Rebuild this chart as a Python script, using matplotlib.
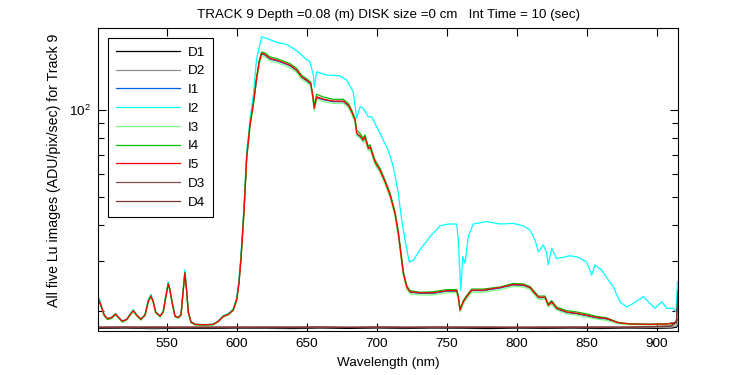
import matplotlib
matplotlib.use('Agg')
import matplotlib.pyplot as plt
from matplotlib.ticker import LogLocator, NullFormatter

plt.rcParams['font.family'] = ['Liberation Sans', 'DejaVu Sans']
plt.rcParams['font.size'] = 9.7

# wavelength samples (nm) for the rising / lamp-line part, shared by I1..I5
wl_left = [501.6, 503.5, 505.4, 507.8, 510.7, 513.5, 515.9, 518.2, 521.4, 523.7,
           526.1, 528.5, 531.6, 534.5, 536.8, 538.7, 540.4, 542.1, 545.2, 547.5,
           549.2, 551.1, 552.3, 554.0, 555.9, 558.2, 560.2, 561.8, 563.0, 564.2,
           565.4, 567.3, 570.2, 577.3, 583.2, 586.8, 590.4, 594.0, 597.5, 600.0,
           601.6, 603.0, 605.2, 607.1, 609.5, 611.8]

# tail wavelengths for I1, I3, I4, I5
wl_right = [614.2, 616.1, 617.8, 620.2, 623.7, 628.5, 633.2, 638.0, 642.8, 646.4,
            649.9, 652.8, 654.2, 655.4, 657.1, 661.8, 669.0, 676.1, 679.7, 682.1,
            684.5, 685.7, 688.0, 690.4, 691.6, 693.9, 695.2, 698.7, 702.3, 705.9,
            709.5, 713.0, 715.4, 717.8, 719.0, 721.4, 723.7, 730.9, 740.4, 750.0,
            757.1, 758.2, 759.5, 761.8, 764.2, 767.8, 776.1, 788.0, 797.5, 804.7,
            809.5, 813.0, 815.4, 820.2, 822.5, 824.9, 828.5, 835.7, 842.8, 849.9,
            857.1, 864.2, 872.5, 880.9, 895.2, 907.1, 913.1, 914.7]

# tail wavelengths for I2
wl_i2_right = [614.2, 617.8, 621.4, 628.5, 635.7, 640.4, 645.2, 648.7, 652.3, 654.7,
               655.4, 657.1, 664.2, 673.7, 678.5, 683.2, 685.7, 688.0, 690.4, 693.9,
               696.4, 702.3, 708.2, 711.8, 715.4, 717.8, 720.2, 723.2, 726.1, 730.9,
               738.0, 745.2, 751.1, 757.1, 758.2, 760.0, 761.4, 763.0, 765.4, 768.9,
               778.5, 788.0, 797.5, 804.7, 809.5, 813.0, 815.4, 819.0, 821.4, 822.5,
               824.9, 828.5, 833.2, 838.0, 844.0, 849.9, 853.5, 855.9, 860.7, 865.4,
               869.0, 873.7, 878.5, 883.2, 890.4, 895.2, 898.7, 903.5, 907.1, 911.9,
               913.8, 914.7]

i1_left = [22.1, 20.6, 19.3, 18.8, 19.0, 19.6, 18.95, 18.45, 18.7, 19.45,
           20.2, 19.35, 18.75, 19.5, 21.8, 22.7, 21.5, 19.85, 19.2, 19.95,
           22.4, 25.1, 23.6, 21.2, 19.2, 19.0, 19.45, 23.9, 27.4, 23.5,
           19.8, 18.35, 18.0, 17.95, 18.0, 18.5, 19.3, 19.6, 20.3, 22.1,
           25.4, 30.6, 45.2, 68.9, 89.5, 105.0]
i1_right = [128.0, 146.2, 156.5, 155.2, 150.3, 148.3, 145.6, 142.5, 137.0, 129.8,
            126.4, 123.1, 112.0, 100.8, 110.5, 108.6, 106.9, 106.9, 103.5, 98.1,
            91.8, 82.5, 80.9, 78.2, 80.3, 73.2, 74.2, 65.7, 61.5, 56.1,
            50.4, 43.6, 37.1, 30.0, 27.0, 24.2, 23.3, 23.1, 23.1, 23.5,
            23.5, 22.4, 20.1, 21.5, 22.4, 23.6, 23.6, 24.1, 24.7, 24.6,
            24.1, 23.0, 22.3, 22.3, 20.9, 21.5, 20.4, 19.8, 19.6, 19.3,
            18.95, 18.8, 18.2, 18.05, 18.0, 18.05, 18.2, 18.6]

i2_left = [22.3, 20.8, 19.45, 18.9, 19.1, 19.65, 19.05, 18.55, 18.8, 19.5,
           20.3, 19.45, 18.85, 19.5, 21.9, 22.9, 21.7, 19.95, 19.3, 20.0,
           22.5, 25.3, 23.8, 21.4, 19.3, 19.1, 19.5, 24.1, 27.9, 23.9,
           19.95, 18.45, 18.05, 18.0, 18.06, 18.5, 19.3, 19.65, 20.4, 22.3,
           25.8, 31.2, 46.5, 71.0, 93.0, 112.0]
i2_right = [151.2, 179.7, 177.4, 171.8, 169.1, 163.7, 157.4, 151.2, 147.2, 132.3,
            120.5, 135.8, 132.3, 131.5, 127.1, 115.8, 93.6, 102.7, 101.4, 94.8,
            94.8, 83.0, 72.6, 63.5, 51.4, 41.5, 35.4, 29.7, 30.1, 32.7,
            36.3, 39.6, 40.2, 40.2, 35.4, 23.7, 31.0, 29.4, 36.3, 40.2,
            41.0, 40.2, 40.4, 39.6, 38.3, 35.4, 32.2, 34.0, 31.8, 29.0,
            33.1, 30.5, 30.8, 31.2, 30.8, 29.7, 26.7, 29.0, 27.8, 25.7,
            24.3, 21.6, 20.7, 21.3, 22.5, 21.3, 20.5, 21.6, 20.5, 20.5,
            19.9, 25.3]

i3_left = [21.7, 20.5, 19.3, 18.7, 18.9, 19.45, 18.85, 18.35, 18.6, 19.3,
           19.95, 19.25, 18.65, 19.3, 21.4, 22.4, 21.4, 19.75, 19.1, 19.75,
           22.0, 24.7, 23.5, 21.1, 19.1, 18.9, 19.3, 23.5, 27.0, 23.5,
           19.75, 18.3, 17.93, 17.88, 17.93, 18.38, 19.1, 19.4, 20.05, 21.7,
           24.8, 29.7, 43.8, 67.0, 87.2, 102.2]
i3_right = [126.3, 144.3, 154.3, 153.0, 148.2, 146.1, 143.5, 140.4, 134.9, 127.9,
            124.6, 121.3, 110.4, 99.4, 109.0, 107.0, 105.4, 105.4, 102.0, 96.7,
            90.5, 81.3, 79.8, 77.1, 79.2, 72.1, 73.1, 64.8, 60.7, 55.3,
            49.7, 42.9, 36.6, 29.5, 26.6, 23.9, 23.0, 22.8, 22.8, 23.2,
            23.2, 22.1, 19.9, 21.2, 22.1, 23.3, 23.3, 23.8, 24.4, 24.3,
            23.8, 22.7, 22.0, 22.0, 20.7, 21.2, 20.2, 19.6, 19.4, 19.1,
            18.8, 18.6, 18.1, 17.97, 17.95, 18.0, 18.1, 18.5]

i4_left = [21.8, 20.6, 19.35, 18.75, 18.95, 19.55, 18.95, 18.4, 18.7, 19.4,
           20.15, 19.4, 18.7, 19.4, 21.7, 22.7, 21.6, 19.85, 19.2, 19.9,
           22.3, 25.0, 23.7, 21.3, 19.2, 19.0, 19.4, 23.8, 27.3, 23.6,
           19.85, 18.3, 17.98, 17.92, 18.0, 18.45, 19.25, 19.55, 20.25, 22.0,
           25.2, 30.4, 44.9, 68.6, 89.4, 105.2]
i4_right = [130.5, 149.0, 159.0, 158.0, 153.0, 151.0, 148.0, 145.0, 139.5, 132.0,
            128.5, 125.0, 114.0, 104.0, 113.5, 111.0, 109.0, 109.0, 105.5, 100.0,
            93.5, 85.0, 83.0, 80.0, 82.0, 74.8, 75.8, 67.2, 62.8, 57.2,
            51.5, 44.5, 38.0, 30.6, 27.5, 24.6, 23.6, 23.3, 23.4, 23.8,
            23.8, 22.7, 20.4, 21.8, 22.7, 23.9, 23.9, 24.3, 25.0, 24.9,
            24.4, 23.3, 22.6, 22.6, 21.2, 21.8, 20.7, 20.1, 19.9, 19.6,
            19.2, 19.0, 18.3, 18.1, 18.05, 18.1, 18.3, 18.8]

i5_left = [21.9, 20.7, 19.4, 18.85, 19.06, 19.57, 19.0, 18.5, 18.76, 19.4,
           20.1, 19.4, 18.8, 19.4, 21.6, 22.6, 21.6, 19.9, 19.26, 19.9,
           22.2, 24.9, 23.7, 21.3, 19.26, 19.06, 19.4, 23.7, 27.2, 23.7,
           19.9, 18.4, 18.03, 17.97, 18.03, 18.45, 19.2, 19.5, 20.2, 21.9,
           25.0, 30.1, 44.4, 68.0, 88.7, 104.1]
i5_right = [128.9, 147.2, 157.4, 156.1, 151.2, 149.1, 146.4, 143.3, 137.7, 130.5,
            127.1, 123.8, 112.7, 101.4, 111.2, 109.2, 107.5, 107.5, 104.1, 98.7,
            92.3, 83.0, 81.4, 78.7, 80.8, 73.6, 74.6, 66.1, 61.9, 56.4,
            50.7, 43.8, 37.3, 30.1, 27.1, 24.3, 23.4, 23.2, 23.2, 23.6,
            23.6, 22.5, 20.2, 21.6, 22.5, 23.7, 23.7, 24.2, 24.8, 24.7,
            24.2, 23.1, 22.4, 22.4, 21.0, 21.6, 20.5, 19.9, 19.7, 19.4,
            19.06, 18.9, 18.26, 18.08, 18.03, 18.08, 18.26, 18.7]

# dark frames
wl_dark = [501.5, 520, 540, 560, 580, 600, 620, 640, 660, 680, 700, 720,
           740, 760, 780, 800, 820, 840, 860, 880, 900, 910, 914, 915.2]
d1 = [17.45, 17.5, 17.42, 17.48, 17.44, 17.5, 17.46, 17.43, 17.49, 17.45, 17.47, 17.44,
      17.5, 17.46, 17.43, 17.48, 17.45, 17.47, 17.44, 17.49, 17.46, 17.5, 17.6, 17.9]
d2 = [17.55, 17.6, 17.52, 17.58, 17.55, 17.6, 17.53, 17.57, 17.55, 17.6, 17.52, 17.56,
      17.58, 17.54, 17.6, 17.55, 17.57, 17.53, 17.58, 17.55, 17.6, 17.62, 17.8, 18.5]
d3 = [17.65, 17.6, 17.68, 17.62, 17.66, 17.6, 17.67, 17.63, 17.65, 17.6, 17.68, 17.64,
      17.62, 17.66, 17.6, 17.65, 17.63, 17.67, 17.62, 17.66, 17.7, 17.75, 18.2, 21.5]
d4 = [17.6, 17.66, 17.58, 17.63, 17.6, 17.65, 17.58, 17.62, 17.66, 17.6, 17.63, 17.58,
      17.66, 17.6, 17.64, 17.58, 17.62, 17.6, 17.65, 17.6, 17.72, 17.8, 18.5, 23.7]

wl_i = wl_left + wl_right
wl_i2 = wl_left + wl_i2_right

fig = plt.figure(figsize=(7.5, 3.75), dpi=100)
ax = fig.add_axes([0.131, 0.1173, 0.7731, 0.808])

lw = 0.9
ax.plot(wl_dark, d1, color='black', lw=lw, label='D1')
ax.plot(wl_dark, d2, color='#909090', lw=lw, label='D2')
ax.plot(wl_i, i1_left + i1_right, color='#0060e0', lw=lw, label='I1')
ax.plot(wl_i2, i2_left + i2_right, color='#00ffff', lw=lw, label='I2')
ax.plot(wl_i, i3_left + i3_right, color='#80ff80', lw=lw, label='I3')
ax.plot(wl_i, i4_left + i4_right, color='#00c000', lw=lw, label='I4')
ax.plot(wl_i, i5_left + i5_right, color='#ff0000', lw=lw, label='I5')
ax.plot(wl_dark, d3, color='#805050', lw=lw, label='D3')
ax.plot(wl_dark, d4, color='#803030', lw=lw, label='D4')

ax.set_yscale('log')
ax.set_xlim(501.1, 915.2)
ax.set_ylim(17.09, 192.7)
ax.set_xticks([550, 600, 650, 700, 750, 800, 850, 900])
ax.yaxis.set_major_locator(LogLocator(base=10))
ax.yaxis.set_minor_locator(LogLocator(base=10, subs=range(2, 10)))
ax.yaxis.set_minor_formatter(NullFormatter())
ax.tick_params(which='both', direction='in', top=True, right=True, width=0.8)
ax.tick_params(which='major', length=5.5, pad=5)
ax.tick_params(which='minor', length=4)
for s in ax.spines.values():
    s.set_linewidth(0.8)

ax.set_title('TRACK 9 Depth =0.08 (m) DISK size =0 cm   Int Time = 10 (sec)', fontsize=9.6, pad=7)
ax.set_xlabel('Wavelength (nm)')
ax.set_ylabel('All five Lu images (ADU/pix/sec) for Track 9', fontsize=10.2)
ax.xaxis.set_label_coords(0.5, -0.085)
ax.yaxis.set_label_coords(-0.064, 0.53)

leg = ax.legend(loc='upper left', handlelength=4.7, handletextpad=0.6, labelspacing=0.47,
                borderaxespad=0.75, borderpad=0.6, fancybox=False, edgecolor='black',
                framealpha=1)
leg.get_frame().set_linewidth(0.8)

plt.savefig('out.png', dpi=100)
